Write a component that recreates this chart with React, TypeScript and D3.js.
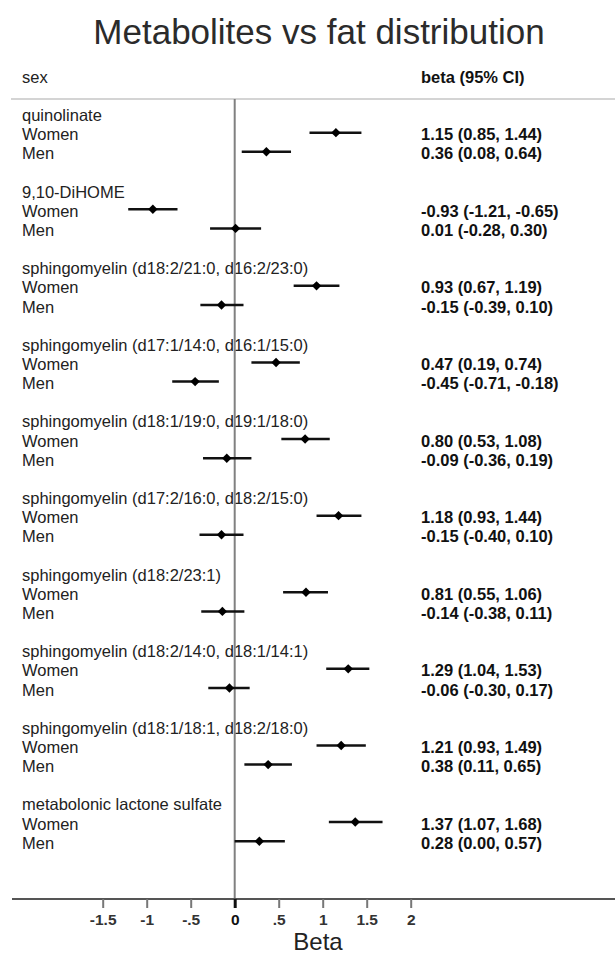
import React, { useEffect, useRef } from 'react';
import * as d3 from 'd3';

// metabolites in display order
const metabolites = [
  'quinolinate',
  '9,10-DiHOME',
  'sphingomyelin (d18:2/21:0, d16:2/23:0)',
  'sphingomyelin (d17:1/14:0, d16:1/15:0)',
  'sphingomyelin (d18:1/19:0, d19:1/18:0)',
  'sphingomyelin (d17:2/16:0, d18:2/15:0)',
  'sphingomyelin (d18:2/23:1)',
  'sphingomyelin (d18:2/14:0, d18:1/14:1)',
  'sphingomyelin (d18:1/18:1, d18:2/18:0)',
  'metabolonic lactone sulfate',
];

const womenBeta = [1.15, -0.93, 0.93, 0.47, 0.8, 1.18, 0.81, 1.29, 1.21, 1.37];
const womenLo = [0.85, -1.21, 0.67, 0.19, 0.53, 0.93, 0.55, 1.04, 0.93, 1.07];
const womenHi = [1.44, -0.65, 1.19, 0.74, 1.08, 1.44, 1.06, 1.53, 1.49, 1.68];

const menBeta = [0.36, 0.01, -0.15, -0.45, -0.09, -0.15, -0.14, -0.06, 0.38, 0.28];
const menLo = [0.08, -0.28, -0.39, -0.71, -0.36, -0.4, -0.38, -0.3, 0.11, 0.0];
const menHi = [0.64, 0.3, 0.1, -0.18, 0.19, 0.1, 0.11, 0.17, 0.65, 0.57];

const tickValues = [-1.5, -1, -0.5, 0, 0.5, 1, 1.5, 2];
const tickLabels = ['-1.5', '-1', '-.5', '0', '.5', '1', '1.5', '2'];

const FONT = '"Liberation Sans", Arial, Helvetica, sans-serif';

const ForestPlot = () => {
  const svgRef = useRef<SVGSVGElement>(null);

  useEffect(() => {
    const svg = d3.select(svgRef.current);
    svg.selectAll('*').remove();

    const width = 615;
    const axisY = 899;
    const headerLineY = 99;
    const labelX = 22;
    const ciX = 421;

    const x = d3.scaleLinear().domain([-1.5, 2]).range([102.7, 410.7]);
    // baseline of each text row (4 rows per metabolite)
    const row = d3.scaleLinear().domain([0, 36]).range([121, 810.4]);

    // one entry per estimate
    const rows = metabolites.flatMap((m, i) => [
      { sex: 'Women', r: i * 4 + 1, beta: womenBeta[i], lo: womenLo[i], hi: womenHi[i] },
      { sex: 'Men', r: i * 4 + 2, beta: menBeta[i], lo: menLo[i], hi: menHi[i] },
    ]);

    // title
    svg.append('text')
      .attr('x', 319)
      .attr('y', 44)
      .attr('text-anchor', 'middle')
      .attr('fill', '#2b2b2b')
      .style('font-family', FONT)
      .style('font-size', '35px')
      .text('Metabolites vs fat distribution');

    // column headers
    svg.append('text')
      .attr('x', labelX)
      .attr('y', 83)
      .attr('fill', '#222')
      .style('font-family', FONT)
      .style('font-size', '16.5px')
      .text('sex');

    svg.append('text')
      .attr('x', ciX)
      .attr('y', 83)
      .attr('fill', '#111')
      .style('font-family', FONT)
      .style('font-size', '16.5px')
      .style('font-weight', 'bold')
      .text('beta (95% CI)');

    svg.append('line')
      .attr('x1', 11)
      .attr('x2', width)
      .attr('y1', headerLineY)
      .attr('y2', headerLineY)
      .attr('stroke', '#d4d4d4')
      .attr('stroke-width', 2);

    // metabolite names
    svg.append('g')
      .selectAll('text')
      .data(metabolites)
      .join('text')
      .attr('x', labelX)
      .attr('y', (d, i) => row(i * 4))
      .attr('fill', '#222')
      .style('font-family', FONT)
      .style('font-size', '16.5px')
      .text(d => d);

    // sex labels
    svg.append('g')
      .selectAll('text')
      .data(rows)
      .join('text')
      .attr('x', labelX)
      .attr('y', d => row(d.r))
      .attr('fill', '#222')
      .style('font-family', FONT)
      .style('font-size', '16.5px')
      .text(d => d.sex);

    // estimate text
    svg.append('g')
      .selectAll('text')
      .data(rows)
      .join('text')
      .attr('x', ciX)
      .attr('y', d => row(d.r))
      .attr('fill', '#111')
      .style('font-family', FONT)
      .style('font-size', '16.5px')
      .style('font-weight', 'bold')
      .text(d => `${d.beta.toFixed(2)} (${d.lo.toFixed(2)}, ${d.hi.toFixed(2)})`);

    // reference line at zero
    svg.append('line')
      .attr('x1', x(0))
      .attr('x2', x(0))
      .attr('y1', headerLineY)
      .attr('y2', axisY)
      .attr('stroke', '#808080')
      .attr('stroke-width', 2);

    // x axis
    svg.append('line')
      .attr('x1', 12)
      .attr('x2', width)
      .attr('y1', axisY)
      .attr('y2', axisY)
      .attr('stroke', '#555')
      .attr('stroke-width', 2);

    const axis = svg.append('g')
      .attr('transform', `translate(0,${axisY})`)
      .call(
        d3.axisBottom(x)
          .tickValues(tickValues)
          .tickFormat((d, i) => tickLabels[i])
          .tickSize(9)
          .tickPadding(6)
      );
    axis.select('.domain').remove();
    axis.selectAll('line')
      .attr('stroke', d => (d === 0 ? '#111' : '#777'))
      .attr('stroke-width', d => (d === 0 ? 3 : 2));
    axis.selectAll('text')
      .attr('fill', d => (d === 0 ? '#111' : '#333'))
      .style('font-family', FONT)
      .style('font-size', '15.5px')
      .style('font-weight', 'bold');

    svg.append('text')
      .attr('x', 318)
      .attr('y', 950)
      .attr('text-anchor', 'middle')
      .attr('fill', '#222')
      .style('font-family', FONT)
      .style('font-size', '24px')
      .text('Beta');

    // confidence intervals
    const marks = svg.append('g');
    marks.selectAll('line')
      .data(rows)
      .join('line')
      .attr('x1', d => x(d.lo))
      .attr('x2', d => x(d.hi))
      .attr('y1', d => row(d.r) - 7.5)
      .attr('y2', d => row(d.r) - 7.5)
      .attr('stroke', '#111')
      .attr('stroke-width', 2.5);

    // point estimates as diamonds
    marks.selectAll('path')
      .data(rows)
      .join('path')
      .attr('transform', d => `translate(${x(d.beta)},${row(d.r) - 7.5})`)
      .attr('d', d3.symbol(d3.symbolDiamond2, 56)())
      .attr('fill', '#000');
  }, []);

  return <svg ref={svgRef} width="615" height="956" style={{ display: 'block' }}></svg>;
};

export default function App() {
  return (
    <>
      <style>{'body{margin:0;background:#fff}'}</style>
      <ForestPlot />
    </>
  );
}
